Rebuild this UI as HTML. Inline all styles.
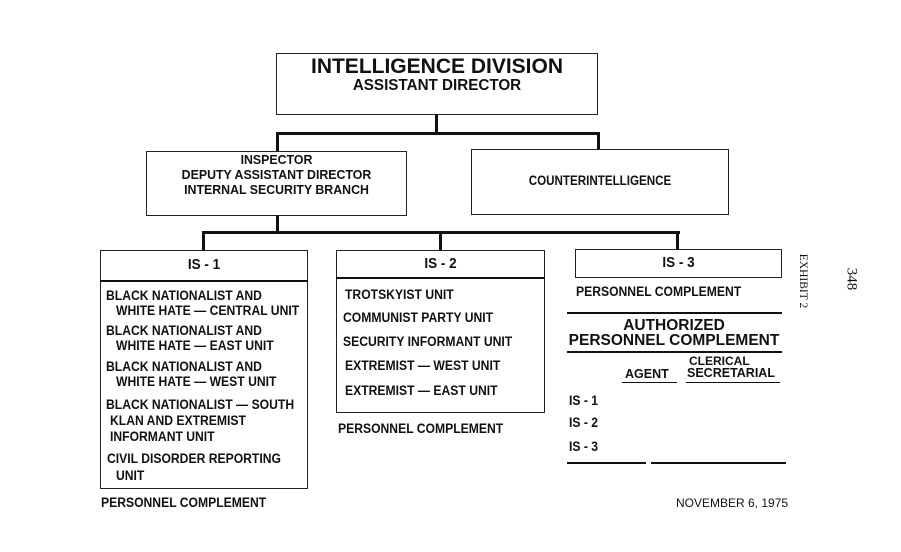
<!DOCTYPE html>
<html><head><meta charset="utf-8"><style>
body{margin:0;width:901px;height:552px;background:#fff;position:relative;overflow:hidden;font-family:"Liberation Sans Narrow","Liberation Sans",sans-serif;font-weight:bold;color:#111}
.b{position:absolute;border:1.5px solid #222;box-sizing:border-box}
.l{position:absolute;background:#111}
.t{position:absolute;white-space:nowrap;font-size:13.5px;line-height:16px;transform:scaleX(.9);transform-origin:0 0}
.c{text-align:center;transform-origin:50% 0}
.w{font-family:"Liberation Sans",sans-serif;transform:none}
</style></head><body>
<div class="b" style="left:276px;top:53px;width:322px;height:62px"></div>
<div class="t c w" style="left:276px;width:322px;top:55px;font-size:21px;line-height:24px">INTELLIGENCE DIVISION</div>
<div class="t c" style="left:276px;width:322px;top:77px;font-size:16px;line-height:18px;transform:scaleX(.95)">ASSISTANT DIRECTOR</div>

<div class="l" style="left:435px;top:114px;width:3px;height:20px"></div>
<div class="l" style="left:276px;top:132px;width:324px;height:3px"></div>
<div class="l" style="left:276px;top:132px;width:3px;height:20px"></div>
<div class="l" style="left:597px;top:132px;width:3px;height:18px"></div>

<div class="b" style="left:146px;top:151px;width:261px;height:65px"></div>
<div class="t c" style="left:146px;width:261px;top:152px;line-height:15px;font-size:13px;transform:scaleX(.95)">INSPECTOR<br>DEPUTY ASSISTANT DIRECTOR<br>INTERNAL SECURITY BRANCH</div>
<div class="b" style="left:471px;top:149px;width:258px;height:66px"></div>
<div class="t c" style="left:471px;width:258px;top:173px;transform:scaleX(.86)">COUNTERINTELLIGENCE</div>

<div class="l" style="left:276px;top:215px;width:3px;height:18px"></div>
<div class="l" style="left:202px;top:231px;width:478px;height:3px"></div>
<div class="l" style="left:202px;top:231px;width:3px;height:20px"></div>
<div class="l" style="left:439px;top:231px;width:3px;height:20px"></div>
<div class="l" style="left:676px;top:231px;width:3px;height:19px"></div>

<div class="b" style="left:100px;top:250px;width:208px;height:239px"></div>
<div class="l" style="left:100px;top:280px;width:208px;height:1.5px"></div>
<div class="t c" style="left:100px;width:208px;top:257px;font-size:15px">IS - 1</div>
<div class="t" style="left:106px;top:288px">BLACK NATIONALIST AND</div>
<div class="t" style="left:116px;top:303px">WHITE HATE — CENTRAL UNIT</div>
<div class="t" style="left:106px;top:323px">BLACK NATIONALIST AND</div>
<div class="t" style="left:116px;top:338px">WHITE HATE — EAST UNIT</div>
<div class="t" style="left:106px;top:359px">BLACK NATIONALIST AND</div>
<div class="t" style="left:116px;top:374px">WHITE HATE — WEST UNIT</div>
<div class="t" style="left:106px;top:397px">BLACK NATIONALIST — SOUTH</div>
<div class="t" style="left:110px;top:413px">KLAN AND EXTREMIST</div>
<div class="t" style="left:110px;top:429px">INFORMANT UNIT</div>
<div class="t" style="left:107px;top:451px">CIVIL DISORDER REPORTING</div>
<div class="t" style="left:116px;top:468px">UNIT</div>
<div class="t" style="left:101px;top:495px">PERSONNEL COMPLEMENT</div>

<div class="b" style="left:336px;top:250px;width:209px;height:163px"></div>
<div class="l" style="left:336px;top:277px;width:209px;height:1.5px"></div>
<div class="t c" style="left:336px;width:209px;top:256px;font-size:15px">IS - 2</div>
<div class="t" style="left:345px;top:287px">TROTSKYIST UNIT</div>
<div class="t" style="left:343px;top:310px">COMMUNIST PARTY UNIT</div>
<div class="t" style="left:343px;top:334px">SECURITY INFORMANT UNIT</div>
<div class="t" style="left:345px;top:358px">EXTREMIST — WEST UNIT</div>
<div class="t" style="left:345px;top:383px">EXTREMIST — EAST UNIT</div>
<div class="t" style="left:338px;top:421px">PERSONNEL COMPLEMENT</div>

<div class="b" style="left:575px;top:249px;width:207px;height:29px"></div>
<div class="t c" style="left:575px;width:207px;top:255px;font-size:15px">IS - 3</div>
<div class="t" style="left:576px;top:284px">PERSONNEL COMPLEMENT</div>
<div class="l" style="left:567px;top:312px;width:215px;height:1.5px"></div>
<div class="t c w" style="left:562px;width:224px;top:317px;font-size:15.5px;line-height:17px">AUTHORIZED</div>
<div class="t c w" style="left:562px;width:224px;top:332px;font-size:15.5px;line-height:17px">PERSONNEL COMPLEMENT</div>
<div class="l" style="left:567px;top:351px;width:215px;height:1.5px"></div>
<div class="t w" style="left:689px;top:355px;font-size:12px;line-height:13px">CLERICAL</div>
<div class="t w" style="left:625px;top:368px;font-size:12.5px;line-height:13px">AGENT</div>
<div class="t w" style="left:687px;top:367px;font-size:12.5px;line-height:13px">SECRETARIAL</div>
<div class="l" style="left:622px;top:382px;width:55px;height:1.2px"></div>
<div class="l" style="left:686px;top:382px;width:94px;height:1.2px"></div>
<div class="t" style="left:569px;top:393px">IS - 1</div>
<div class="t" style="left:569px;top:415px">IS - 2</div>
<div class="t" style="left:569px;top:439px">IS - 3</div>
<div class="l" style="left:567px;top:462px;width:79px;height:1.5px"></div>
<div class="l" style="left:651px;top:462px;width:135px;height:1.5px"></div>
<div class="t w" style="left:676px;top:495px;font-size:12px;font-weight:normal">NOVEMBER 6, 1975</div>

<div class="t w" style="left:776px;top:273px;font-family:'Liberation Serif',serif;font-weight:normal;font-size:11.5px;transform:rotate(90deg);transform-origin:50% 50%">EXHIBIT 2</div>
<div class="t w" style="left:840px;top:271px;font-family:'Liberation Serif',serif;font-weight:normal;font-size:15px;transform:rotate(90deg);transform-origin:50% 50%">348</div>
</body></html>
